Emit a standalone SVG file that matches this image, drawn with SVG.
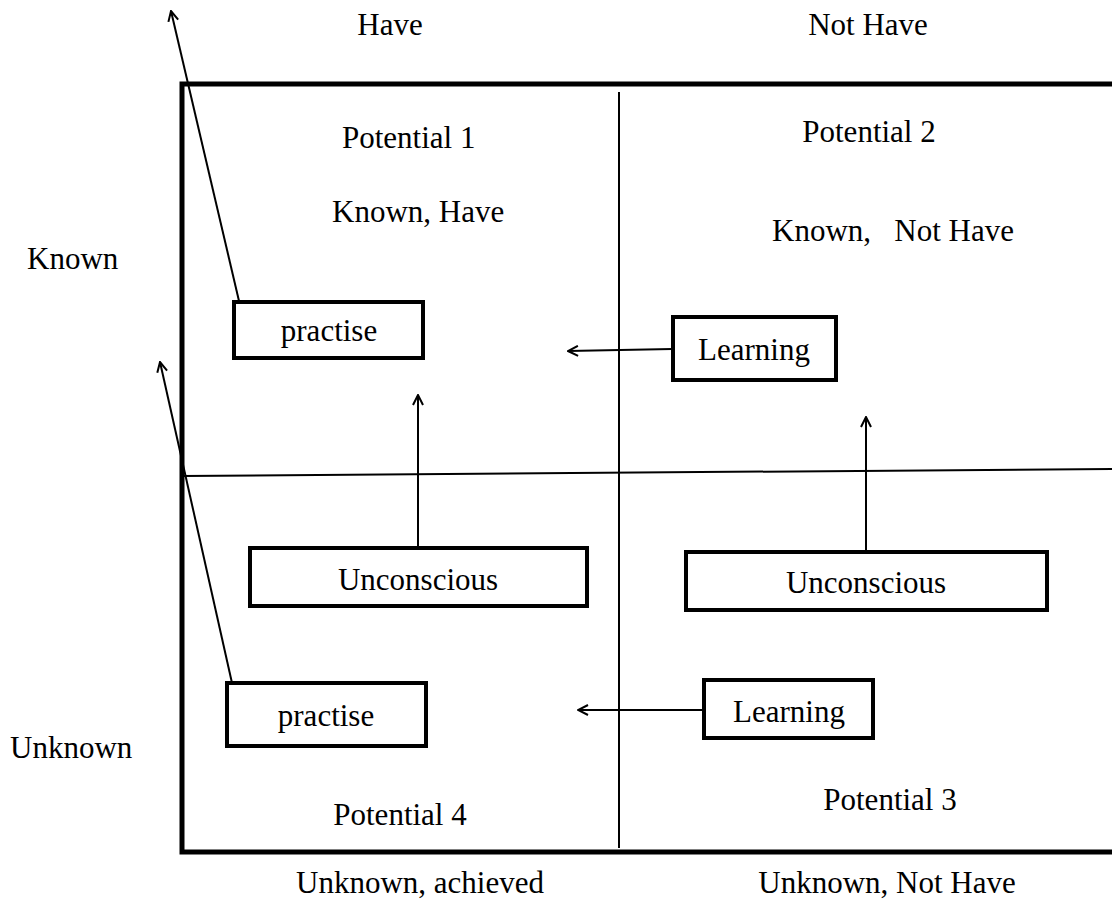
<svg xmlns="http://www.w3.org/2000/svg" width="1112" height="910" viewBox="0 0 1112 910">
  <style>
    text { font-family: "Liberation Serif", "Times New Roman", serif; font-size: 31px; fill: #000; }
    .box rect { fill: #fff; stroke: #000; stroke-width: 4; }
    .frame { fill: none; stroke: #000; stroke-width: 5; }
    .div { stroke: #000; stroke-width: 2; fill: none; }
    .arrow { stroke: #000; stroke-width: 2; fill: none; marker-end: url(#head); }
  </style>
  <defs>
    <marker id="head" viewBox="0 0 12 12" refX="11" refY="6" markerWidth="12" markerHeight="12" markerUnits="userSpaceOnUse" orient="auto">
      <path d="M1,1 L11,6 L1,11" fill="none" stroke="#000" stroke-width="2"/>
    </marker>
  </defs>
  <rect width="1112" height="910" fill="#fff"/>

  <!-- matrix frame (open on the right) and quadrant dividers -->
  <g id="grid">
    <path class="frame" d="M1112,84 L182,84 L182,852 L1112,852"/>
    <line class="div" x1="619" y1="92" x2="619" y2="848"/>
    <line class="div" x1="182" y1="476" x2="1112" y2="469"/>
  </g>

  <!-- axis labels -->
  <g id="axis-labels">
    <text x="390" y="35" text-anchor="middle">Have</text>
    <text x="868" y="35" text-anchor="middle">Not Have</text>
    <text x="27" y="269">Known</text>
    <text x="10" y="758">Unknown</text>
    <text x="420" y="893" text-anchor="middle">Unknown, achieved</text>
    <text x="887" y="893" text-anchor="middle">Unknown, Not Have</text>
  </g>

  <!-- quadrant captions -->
  <g id="q1">
    <text x="342" y="148">Potential 1</text>
    <text x="332" y="222">Known, Have</text>
  </g>
  <g id="q2">
    <text x="869" y="142" text-anchor="middle">Potential 2</text>
    <text x="893" y="241" text-anchor="middle" xml:space="preserve">Known,   Not Have</text>
  </g>
  <g id="q3">
    <text x="890" y="810" text-anchor="middle">Potential 3</text>
  </g>
  <g id="q4">
    <text x="400" y="825" text-anchor="middle">Potential 4</text>
  </g>

  <!-- connectors -->
  <g id="connectors">
    <line class="arrow" x1="239" y1="301" x2="171" y2="11"/>
    <line class="arrow" x1="232" y1="683" x2="160" y2="362"/>
    <line class="arrow" x1="672" y1="349" x2="568" y2="351"/>
    <line class="arrow" x1="703" y1="710" x2="578" y2="710"/>
    <line class="arrow" x1="418" y1="547" x2="418" y2="395"/>
    <line class="arrow" x1="866" y1="551" x2="866" y2="417"/>
  </g>

  <!-- nodes -->
  <g id="practise-known" class="box">
    <rect x="234" y="302" width="189" height="56"/>
    <text x="329" y="341" text-anchor="middle">practise</text>
  </g>
  <g id="learning-known" class="box">
    <rect x="673" y="317" width="163" height="63"/>
    <text x="754" y="360" text-anchor="middle">Learning</text>
  </g>
  <g id="unconscious-have" class="box">
    <rect x="250" y="548" width="337" height="58"/>
    <text x="418" y="590" text-anchor="middle">Unconscious</text>
  </g>
  <g id="unconscious-not-have" class="box">
    <rect x="686" y="552" width="361" height="58"/>
    <text x="866" y="593" text-anchor="middle">Unconscious</text>
  </g>
  <g id="practise-unknown" class="box">
    <rect x="227" y="683" width="199" height="63"/>
    <text x="326" y="726" text-anchor="middle">practise</text>
  </g>
  <g id="learning-unknown" class="box">
    <rect x="704" y="680" width="169" height="58"/>
    <text x="789" y="722" text-anchor="middle">Learning</text>
  </g>
</svg>
